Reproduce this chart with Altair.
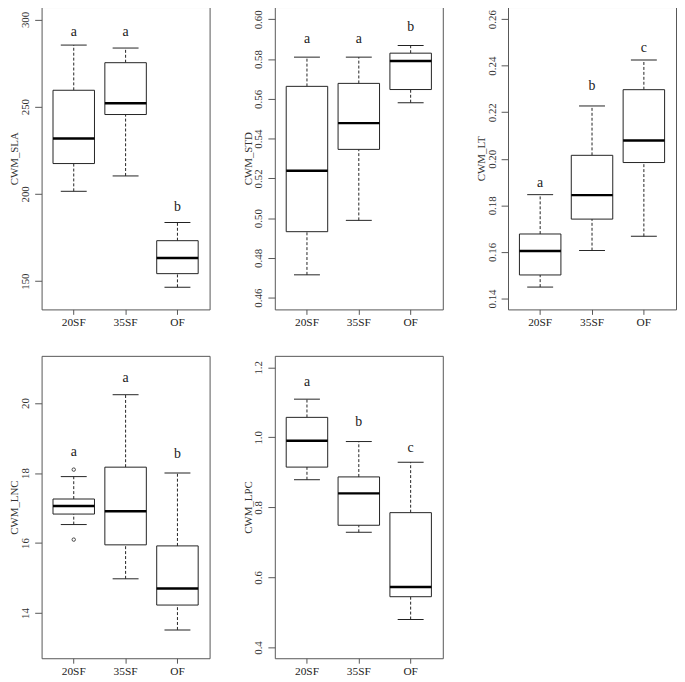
import altair as alt
import pandas as pd

GROUPS = ["20SF", "35SF", "OF"]

# five-number summaries per group: lower whisker, Q1, median, Q3, upper whisker
SLA_LOW = [201.5, 210.3, 146.5]
SLA_Q1 = [217.4, 245.5, 154.3]
SLA_MED = [231.7, 251.9, 163.3]
SLA_Q3 = [259.4, 275.2, 173.2]
SLA_UP = [285.3, 283.6, 183.6]
SLA_LET = ["a", "a", "b"]
SLA_LET_Y = [293.0, 293.0, 192.4]

STD_LOW = [0.4715, 0.4989, 0.5581]
STD_Q1 = [0.4932, 0.5346, 0.5647]
STD_MED = [0.5238, 0.5478, 0.5791]
STD_Q3 = [0.5663, 0.5678, 0.5830]
STD_UP = [0.5810, 0.5810, 0.5869]
STD_LET = ["a", "a", "b"]
STD_LET_Y = [0.5899, 0.5899, 0.5961]

LT_LOW = [0.1449, 0.1606, 0.1667]
LT_Q1 = [0.1501, 0.1741, 0.1984]
LT_MED = [0.1604, 0.1844, 0.2079]
LT_Q3 = [0.1677, 0.2015, 0.2297]
LT_UP = [0.1846, 0.2227, 0.2424]
LT_LET = ["a", "b", "c"]
LT_LET_Y = [0.1897, 0.2312, 0.2477]

LNC_LOW = [16.53, 14.98, 13.52]
LNC_Q1 = [16.83, 15.95, 14.23]
LNC_MED = [17.06, 16.91, 14.70]
LNC_Q3 = [17.26, 18.17, 15.92]
LNC_UP = [17.90, 20.24, 18.00]
LNC_LET = ["a", "a", "b"]
LNC_LET_Y = [18.60, 20.71, 18.54]
LNC_OUT_GROUP = ["20SF", "20SF"]
LNC_OUT_VAL = [18.10, 16.10]

LPC_LOW = [0.879, 0.729, 0.480]
LPC_Q1 = [0.915, 0.749, 0.545]
LPC_MED = [0.990, 0.840, 0.573]
LPC_Q3 = [1.057, 0.887, 0.785]
LPC_UP = [1.109, 0.988, 0.929]
LPC_LET = ["a", "b", "c"]
LPC_LET_Y = [1.158, 1.045, 0.968]

W = 170
H = 306
STEP = W / 3.24
BOXW = 0.8 * STEP
CAPW = 0.5 * STEP
FONT = "Liberation Serif"
INK = "#222222"


def panel(title, low, q1, med, q3, up, let, let_y, domain, ticks, fmt,
          out_group=None, out_val=None):
    df = pd.DataFrame({"group": GROUPS, "low": low, "q1": q1, "med": med,
                       "q3": q3, "up": up, "letter": let, "ly": let_y})
    xs = alt.Scale(type="band", domain=GROUPS, paddingInner=0.2, paddingOuter=0.22)
    ys = alt.Scale(domain=domain, nice=False, zero=False)
    yaxis = alt.Axis(values=ticks, format=fmt)
    X = alt.X("group:N", scale=xs, title=None, axis=alt.Axis(labelAngle=0))

    def Y(f):
        return alt.Y(f, type="quantitative", scale=ys, axis=yaxis, title=title)

    base = alt.Chart(df)
    wh_hi = base.mark_rule(color=INK, strokeDash=[3, 2], strokeWidth=1).encode(
        x=X, y=Y("q3"), y2="up")
    wh_lo = base.mark_rule(color=INK, strokeDash=[3, 2], strokeWidth=1).encode(
        x=X, y=Y("low"), y2="q1")
    cap_hi = base.mark_tick(color=INK, size=CAPW, thickness=1, opacity=1).encode(
        x=X, y=Y("up"))
    cap_lo = base.mark_tick(color=INK, size=CAPW, thickness=1, opacity=1).encode(
        x=X, y=Y("low"))
    box = base.mark_bar(fill="white", stroke=INK, strokeWidth=1, opacity=1).encode(
        x=X, y=Y("q1"), y2="q3")
    median = base.mark_tick(color="#000000", size=BOXW, thickness=2.5, opacity=1).encode(
        x=X, y=Y("med"))
    letters = base.mark_text(font=FONT, fontSize=14, color=INK, baseline="middle").encode(
        x=X, y=Y("ly"), text="letter:N")
    layers = [wh_hi, wh_lo, cap_hi, cap_lo, box, median, letters]
    if out_group is not None:
        odf = pd.DataFrame({"group": out_group, "val": out_val})
        pts = alt.Chart(odf).mark_point(shape="circle", filled=False, size=12,
                                        strokeWidth=0.8, color=INK, opacity=1).encode(
            x=X, y=Y("val"))
        layers.append(pts)
    return alt.layer(*layers).properties(width=W, height=H)


p1 = panel("CWM_SLA", SLA_LOW, SLA_Q1, SLA_MED, SLA_Q3, SLA_UP, SLA_LET, SLA_LET_Y,
           [133.8, 307.1], [150, 200, 250, 300], "d")
p2 = panel("CWM_STD", STD_LOW, STD_Q1, STD_MED, STD_Q3, STD_UP, STD_LET, STD_LET_Y,
           [0.4541, 0.6062], [0.46, 0.48, 0.50, 0.52, 0.54, 0.56, 0.58, 0.60], ".2f")
p3 = panel("CWM_LT", LT_LOW, LT_Q1, LT_MED, LT_Q3, LT_UP, LT_LET, LT_LET_Y,
           [0.1353, 0.2652], [0.14, 0.16, 0.18, 0.20, 0.22, 0.24, 0.26], ".2f")
p4 = panel("CWM_LNC", LNC_LOW, LNC_Q1, LNC_MED, LNC_Q3, LNC_UP, LNC_LET, LNC_LET_Y,
           [12.71, 21.35], [14, 16, 18, 20], "d", LNC_OUT_GROUP, LNC_OUT_VAL)
p5 = panel("CWM_LPC", LPC_LOW, LPC_Q1, LPC_MED, LPC_Q3, LPC_UP, LPC_LET, LPC_LET_Y,
           [0.3693, 1.2326], [0.4, 0.6, 0.8, 1.0, 1.2], ".1f")

chart = alt.vconcat(
    alt.hconcat(p1, p2, p3, spacing=31),
    alt.hconcat(p4, p5, spacing=31),
    spacing=27,
).properties(
    padding={"left": 0, "top": -6, "right": 0, "bottom": 0},
).configure(
    font=FONT,
).configure_view(
    stroke="#555555", strokeWidth=1,
).configure_axisY(
    labelAngle=-90, labelAlign="center", labelBaseline="bottom",
    tickSize=7, tickColor="#555555", labelPadding=4,
    labelFont=FONT, labelFontSize=11, labelColor="#333333",
    titleFont=FONT, titleFontSize=11, titleFontWeight="normal", titleColor="#333333",
    titlePadding=1, minExtent=21, maxExtent=21,
    domain=False, grid=False,
).configure_axisX(
    tickSize=5, tickColor="#555555", labelPadding=2,
    labelFont=FONT, labelFontSize=11.5, labelColor="#222222",
    minExtent=18, maxExtent=18, domain=False, grid=False,
)

chart.save("out.html", embed_options={"renderer": "svg", "actions": False})
